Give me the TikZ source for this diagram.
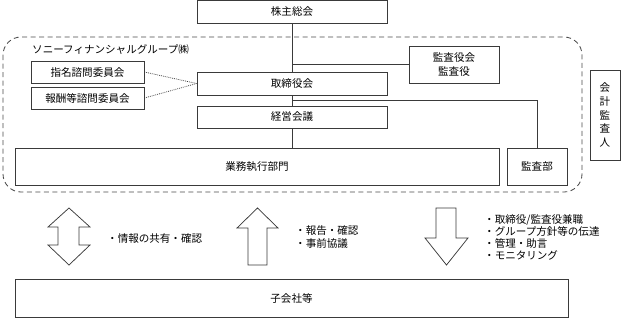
\documentclass[tikz,border=0pt]{standalone}
\usepackage{fontspec}
\setmainfont{Noto Sans CJK JP}
\usepackage{xcolor}
\usetikzlibrary{calc}
\definecolor{boxline}{HTML}{3A3A3A}
\definecolor{frameline}{HTML}{4A4A4A}
\newlength{\unitpx}
\setlength{\unitpx}{0.3333mm}

\begin{document}
\begin{tikzpicture}[
    x=\unitpx, y=-\unitpx,
    box/.style={draw=boxline, line width=0.7pt, fill=white, inner sep=0pt, align=center, minimum height=23*\unitpx, font=\fontsize{10}{13}\selectfont},
    link/.style={draw=boxline, line width=0.7pt},
    dotlink/.style={draw=boxline, line width=0.7pt, dash pattern=on 0.8pt off 1pt},
    blockarrow/.style={draw=boxline, line width=0.7pt, fill=white, line join=miter},
    note/.style={anchor=west, inner sep=0pt, align=left, font=\fontsize{10}{11.6}\selectfont},
]
    \useasboundingbox (0,0) rectangle (621,318);

    % Group frame
    \draw[frameline, line width=0.8pt, dash pattern=on 5*\unitpx off 3.5*\unitpx, rounded corners=18*\unitpx] (3,37) rectangle (582,192);
    \node[note] (grouplabel) at (32,50) {ソニーフィナンシャルグループ㈱};

    % Governance boxes
    \node[box, minimum width=190*\unitpx] (kabunushi) at (292,11.5) {株主総会};
    \node[box, minimum width=113*\unitpx, minimum height=22*\unitpx] (shimei) at (87.5,72) {指名諮問委員会};
    \node[box, minimum width=113*\unitpx, minimum height=22*\unitpx] (houshu) at (87.5,98) {報酬等諮問委員会};
    \node[box, minimum width=190*\unitpx] (torishimari) at (292,83.5) {取締役会};
    \node[box, minimum width=90*\unitpx, minimum height=37*\unitpx] (kansayaku) at (454,64.5) {監査役会\\監査役};
    \node[box, minimum width=190*\unitpx, minimum height=22*\unitpx] (keiei) at (292,117) {経営会議};
    \node[box, minimum width=484*\unitpx, minimum height=37*\unitpx] (gyomu) at (257,166.5) {業務執行部門};
    \node[box, minimum width=60*\unitpx, minimum height=37*\unitpx] (kansabu) at (537,166.5) {監査部};
    \node[box, minimum width=30*\unitpx, minimum height=90*\unitpx] (kaikei) at (605,115) {会\\計\\監\\査\\人};
    \node[box, minimum width=553*\unitpx, minimum height=38*\unitpx] (kogaisha) at (291.5,298) {子会社等};

    % Connection lines
    \draw[link] (kabunushi.south) -- (torishimari.north);
    \draw[link] (torishimari.south) -- (keiei.north);
    \draw[link] (keiei.south) -- (keiei.south |- gyomu.north);
    \draw[link] (kansayaku.west -| kabunushi.south) -- (kansayaku.west);
    \draw[link] ($(torishimari.south)!0.5!(keiei.north)$) -| (kansabu.north);
    \draw[dotlink] (shimei.east) -- (torishimari.west);
    \draw[dotlink] (houshu.east) -- (torishimari.west);

    % Block arrows
    \draw[blockarrow] (69,208) -- (90,227) -- (79,227) -- (79,245) -- (90,245) -- (69,265)
        -- (48,245) -- (58,245) -- (58,227) -- (48,227) -- cycle;
    \draw[blockarrow] (257.5,208) -- (278,228) -- (267,228) -- (267,265) -- (248,265) -- (248,228) -- (237,228) -- cycle;
    \draw[blockarrow] (436,208) -- (456,208) -- (456,238) -- (468,238) -- (446.5,265) -- (425,238) -- (436,238) -- cycle;

    % Arrow labels
    \node[note] (sharing) at (107,238) {・情報の共有・確認};
    \node[note] (reporting) at (295,237) {・報告・確認\\・事前協議};
    \node[note] (oversight) at (484,237.5) {・取締役/監査役兼職\\・グループ方針等の伝達\\・管理・助言\\・モニタリング};

\end{tikzpicture}
\end{document}
